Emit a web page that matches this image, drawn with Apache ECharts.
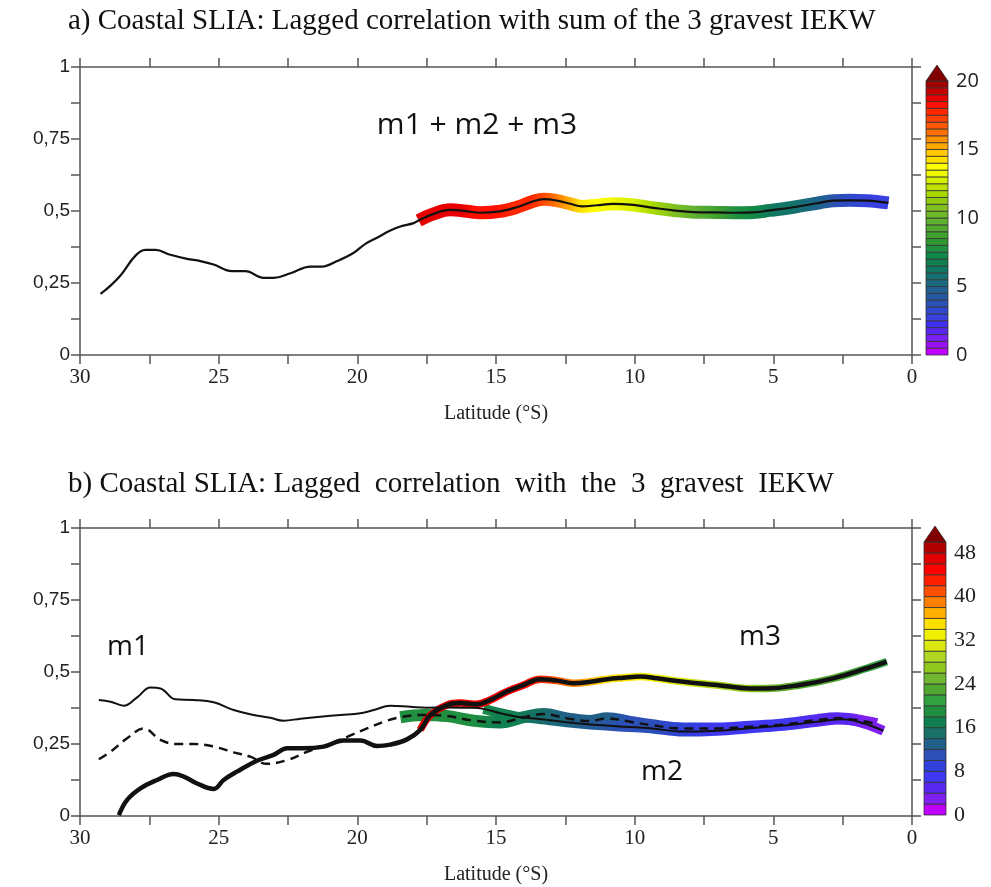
<!DOCTYPE html>
<html><head><meta charset="utf-8">
<script src="https://cdn.jsdelivr.net/npm/echarts@6/dist/echarts.min.js"></script>
<style>html,body{margin:0;padding:0;background:#fff}#c{width:991px;height:887px}</style>
</head><body><div id="c"></div>
<script>
// ---------- Panel a: sum m1+m2+m3 ----------
const aLat = [29.26,28.9,28.54,28.0,27.64,27.28,26.74,26.14,25.66,25.18,24.52,24.04,23.38,23.02,22.41,21.69,21.27,20.73,20.13,19.71,19.29,18.81,18.45,17.97,
  17.79,17.25,16.65,16.05,15.57,14.85,14.25,13.65,13.29,12.8,12.32,11.9,11.36,10.76,10.04,9.32,8.6,7.88,7.04,6.44,5.72,5.12,4.28,3.43,2.84,2.24,1.63,0.85];
const aVal = [0.212,0.241,0.276,0.345,0.365,0.365,0.348,0.334,0.326,0.314,0.291,0.291,0.268,0.268,0.284,0.307,0.307,0.326,0.355,0.386,0.407,0.432,0.446,0.458,
  0.467,0.49,0.504,0.499,0.494,0.499,0.513,0.534,0.541,0.536,0.525,0.516,0.52,0.525,0.521,0.511,0.502,0.496,0.495,0.494,0.495,0.502,0.513,0.527,0.536,0.537,0.536,0.528];
const aLag = [null,null,null,null,null,null,null,null,null,null,null,null,null,null,null,null,null,null,null,null,null,null,null,null,
  18.6,18.6,18.6,18.5,18.3,18,17.8,17.5,17.2,16,15,14.2,13.6,13.2,12.5,11.5,10.5,9.7,8.8,7.8,7,6.2,5.5,4.5,3.8,3,2.6,2.5];

// ---------- Panel b: m1 (thin), m2 (dashed), m3 (thick) ----------
const m1Lat = [29.32,28.9,28.42,27.94,27.46,27.1,26.56,25.9,25.18,24.46,23.74,23.14,22.66,22.05,21.33,20.61,19.89,19.41,18.81,18.09,17.49,16.77,16.05,
  15.45,14.85,14.25,13.5,12.08,10.4,9.44,8.24,7.04,5.84,4.64,3.43,2.48,1.76,1.03];
const m1Val = [0.403,0.397,0.383,0.412,0.446,0.443,0.405,0.403,0.395,0.368,0.351,0.341,0.331,0.338,0.345,0.351,0.357,0.368,0.383,0.379,0.376,0.377,0.376,
  0.372,0.357,0.345,0.338,0.322,0.31,0.305,0.293,0.296,0.305,0.314,0.327,0.336,0.322,0.296];
const m1Lag = [null,null,null,null,null,null,null,null,null,null,null,null,null,null,null,null,null,null,null,null,null,null,null,
  18.5,17.5,17,15.5,13.5,11.5,10.5,9,7.5,7,6.5,5.5,4.5,3.5,3];

const m2Lat = [29.32,28.9,28.3,27.7,27.1,26.5,25.9,25.18,24.46,23.86,23.26,22.53,21.81,21.09,20.37,19.65,19.05,
  18.45,17.61,16.77,15.81,14.85,14.0,13.29,12.44,11.6,11.0,10.16,9.44,8.24,7.04,5.84,4.64,3.43,2.72,2.0,1.27];
const m2Val = [0.197,0.223,0.27,0.304,0.264,0.25,0.25,0.241,0.221,0.206,0.181,0.194,0.223,0.247,0.275,0.304,0.327,
  0.343,0.351,0.347,0.331,0.325,0.343,0.354,0.339,0.33,0.339,0.327,0.316,0.304,0.304,0.31,0.318,0.333,0.339,0.333,0.319];
const m2Lag = [null,null,null,null,null,null,null,null,null,null,null,null,null,null,null,null,null,
  19.5,19,19,18.5,17.5,16.5,15,13.5,13,12.5,11.5,10.5,9,7.5,7,6.5,5.5,4.5,3.5,3];

const m3Lat = [28.6,28.3,27.82,27.22,26.62,26.26,25.78,25.18,24.82,24.34,23.62,23.02,22.53,21.93,21.21,20.49,19.89,19.29,18.81,18.21,
  17.73,17.37,16.77,16.29,15.69,15.21,14.61,14.0,13.41,12.8,12.2,11.6,11.0,10.4,9.8,9.2,8.24,7.04,5.84,5.24,4.04,2.84,1.63,0.91];
const m3Val = [0.003,0.056,0.096,0.125,0.146,0.137,0.113,0.094,0.125,0.154,0.192,0.212,0.235,0.235,0.241,0.262,0.262,0.243,0.248,0.266,
  0.299,0.35,0.385,0.392,0.388,0.403,0.432,0.455,0.475,0.47,0.461,0.466,0.475,0.48,0.484,0.478,0.466,0.455,0.443,0.443,0.455,0.478,0.513,0.536];
const m3Lag = [null,null,null,null,null,null,null,null,null,null,null,null,null,null,null,null,null,null,null,null,
  47,47,47,46,46,45.5,45,44,42.5,40.5,38.5,37,35.5,34.5,33.5,33,31,29,27,25.5,23.5,22,21,20];

// ---------- Colour scales ----------
const paletteA = ['#c000ff','#9810f0','#7820f0','#5828f0','#4030f0','#3840e0','#3048d0','#2c50b8','#2658a0','#206090',
  '#1a6880','#157070','#107860','#108050','#108848','#209040','#309830','#40a030','#50a830','#60b030',
  '#70b828','#80c020','#90cc10','#a8d800','#c0e000','#d8f000','#f0f800','#ffff00','#ffe000','#ffc800',
  '#ffa800','#ff9000','#ff7000','#ff5800','#ff4000','#ff2800','#ff1000','#e80000','#c80000','#a00000'];
const stepA = 0.5, maxA = 20, labelStepA = 5;
const paletteB = ['#c000ff','#8020f0','#5828f0','#4038f0','#3040d8','#2c50b8','#206088','#187068','#108050','#209040',
  '#30a040','#50a830','#70b830','#90c820','#b0d820','#d8e810','#f0f000','#ffe000','#ffb000','#ff8000',
  '#ff5000','#ff2000','#ff0000','#e00000','#b00000'];
const stepB = 2, maxB = 50, labelStepB = 8;
const overColor = '#800000';

// ---------- Text ----------
const titleA = 'a) Coastal SLIA: Lagged correlation with sum of the 3 gravest IEKW';
const titleB = 'b) Coastal SLIA: Lagged  correlation  with  the  3  gravest  IEKW';
const xName = 'Latitude (°S)';
const labelSum = 'm1 + m2 + m3', labelM1 = 'm1', labelM2 = 'm2', labelM3 = 'm3';

function colorFor(lag, pal, step){
  let i = Math.floor(lag/step); if(i<0) i=0; if(i>=pal.length) i=pal.length-1; return pal[i];
}
function pairs(lat,val){ return lat.map((x,i)=>[x,val[i]]); }
function bandPairs(lat,val,lag){ const r=[]; lat.forEach((x,i)=>{ if(lag[i]!=null) r.push([x,val[i]]); }); return r; }
function bandGradient(lat,lag,pal,step){
  const idx = lat.map((_,i)=>i).filter(i=>lag[i]!=null);
  const hi = Math.max(...idx.map(i=>lat[i])), lo = Math.min(...idx.map(i=>lat[i]));
  return {type:'linear',x:0,y:0,x2:1,y2:0,global:false,
    colorStops: idx.map(i=>({offset:(hi-lat[i])/(hi-lo), color:colorFor(lag[i],pal,step)}))};
}

const axisColor = '#555';
function mainX(gi, pos, showLabel){
  return {type:'value', gridIndex:gi, position:pos, min:0, max:30, interval:2.5, inverse:true,
    axisLine:{show:true,onZero:false,lineStyle:{color:axisColor,width:1.5}},
    axisTick:{show:true,inside:false,length:9,lineStyle:{color:axisColor,width:1.5}},
    splitLine:{show:false},
    axisLabel:{show:showLabel, margin:12, color:'#222', fontFamily:'Liberation Serif', fontSize:21,
      formatter:v=> (Math.abs(v%5)<1e-6 ? String(v) : '')},
    name: showLabel ? xName : '', nameLocation:'middle', nameGap:49,
    nameTextStyle:{fontFamily:'Liberation Serif', fontSize:20, color:'#222'}};
}
function mainY(gi, pos, showLabel){
  return {type:'value', gridIndex:gi, position:pos, min:0, max:1, interval:0.125,
    axisLine:{show:true,onZero:false,lineStyle:{color:axisColor,width:1.5}},
    axisTick:{show:true,inside:false,length:9,lineStyle:{color:axisColor,width:1.5}},
    splitLine:{show:false},
    axisLabel:{show:showLabel, margin:10, color:'#222', fontFamily:'Liberation Sans', fontSize:19,
      formatter:v=>{ const q=v*4; return Math.abs(q-Math.round(q))<1e-6 ? String(v).replace('.',',') : ''; }}};
}
function cbarX(gi){ return {type:'value', gridIndex:gi, min:0, max:1, show:false}; }
function cbarY(gi, max, lstep, font, size){
  return {type:'value', gridIndex:gi, position:'right', min:0, max:max, interval:lstep,
    axisLine:{show:false}, axisTick:{show:false}, splitLine:{show:false},
    axisLabel:{margin:8, color:'#222', fontFamily:font, fontSize:size, showMaxLabel:true,
      formatter:v=> (v%lstep===0 && v<=max ? String(v) : '')}};
}
function cbarSeries(xi, yi, pal, step, max){
  return [{type:'custom', xAxisIndex:xi, yAxisIndex:yi, silent:true, clip:false,
      encode:{x:-1, y:[0,1]},
      data: pal.map((c,i)=>[i*step,(i+1)*step,i]),
      renderItem:(p,api)=>{
        const p0=api.coord([0,api.value(0)]), p1=api.coord([1,api.value(1)]);
        return {type:'rect', shape:{x:p0[0], y:p1[1], width:p1[0]-p0[0], height:p0[1]-p1[1]},
          style:{fill:pal[api.value(2)], stroke:'#333', lineWidth:0.8}};
      }},
    {type:'custom', xAxisIndex:xi, yAxisIndex:yi, silent:true, clip:false,
      encode:{x:-1, y:[0]},
      data:[[max]],
      renderItem:(p,api)=>{
        const a=api.coord([0,api.value(0)]), b=api.coord([1,api.value(0)]);
        return {type:'polygon', shape:{points:[[a[0],a[1]],[b[0],b[1]],[(a[0]+b[0])/2,a[1]-16]]},
          style:{fill:overColor, stroke:'#333', lineWidth:0.8}};
      }}];
}

const chart = echarts.init(document.getElementById('c'), null, {renderer:'canvas'});
const series = [
  // panel a
  {type:'line', xAxisIndex:0, yAxisIndex:0, data:bandPairs(aLat,aVal,aLag), smooth:0.4, symbol:'none',
    lineStyle:{width:13, cap:'butt', color:bandGradient(aLat,aLag,paletteA,stepA)}, z:2},
  {type:'line', xAxisIndex:0, yAxisIndex:0, data:pairs(aLat,aVal), smooth:0.4, symbol:'none',
    lineStyle:{width:2.2, color:'#111'}, z:3},
  // panel b bands
  {type:'line', xAxisIndex:2, yAxisIndex:2, data:bandPairs(m2Lat,m2Val,m2Lag), smooth:0.4, symbol:'none',
    lineStyle:{width:12, cap:'butt', color:bandGradient(m2Lat,m2Lag,paletteB,stepB)}, z:2},
  {type:'line', xAxisIndex:2, yAxisIndex:2, data:bandPairs(m1Lat,m1Val,m1Lag), smooth:0.4, symbol:'none',
    lineStyle:{width:10, cap:'butt', color:bandGradient(m1Lat,m1Lag,paletteB,stepB)}, z:2},
  {type:'line', xAxisIndex:2, yAxisIndex:2, data:bandPairs(m3Lat,m3Val,m3Lag), smooth:0.4, symbol:'none',
    lineStyle:{width:7.5, cap:'butt', color:bandGradient(m3Lat,m3Lag,paletteB,stepB)}, z:2},
  // panel b lines
  {type:'line', xAxisIndex:2, yAxisIndex:2, data:pairs(m1Lat,m1Val), smooth:0.4, symbol:'none',
    lineStyle:{width:2, color:'#111'}, z:3},
  {type:'line', xAxisIndex:2, yAxisIndex:2, data:pairs(m2Lat,m2Val), smooth:0.4, symbol:'none',
    lineStyle:{width:2.5, color:'#111', type:[9,6]}, z:3},
  {type:'line', xAxisIndex:2, yAxisIndex:2, data:pairs(m3Lat,m3Val), smooth:0.4, symbol:'none',
    lineStyle:{width:4.5, color:'#111'}, z:3},
  ...cbarSeries(4,4,paletteA,stepA,maxA),
  ...cbarSeries(5,5,paletteB,stepB,maxB)
];

const lblStyle = (t,s)=>({text:t, font:s+'px "Open Sans"', fill:'#111', textAlign:'center', textVerticalAlign:'middle'});
chart.setOption({
  animation:false,
  backgroundColor:'#fff',
  title:[
    {text:titleA, left:63, top:2, textStyle:{fontFamily:'Liberation Serif', fontSize:29, fontWeight:'normal', color:'#111'}},
    {text:titleB, left:63, top:465, textStyle:{fontFamily:'Liberation Serif', fontSize:29, fontWeight:'normal', color:'#111'}}
  ],
  grid:[
    {left:80, top:67, width:832, height:288},
    {left:80, top:528, width:832, height:288},
    {left:926, top:81, width:22, height:274},
    {left:924, top:542, width:22, height:273}
  ],
  xAxis:[mainX(0,'bottom',true), mainX(0,'top',false), mainX(1,'bottom',true), mainX(1,'top',false), cbarX(2), cbarX(3)],
  yAxis:[mainY(0,'left',true), mainY(0,'right',false), mainY(1,'left',true), mainY(1,'right',false),
         cbarY(2,maxA,labelStepA,'Open Sans',20), cbarY(3,maxB,labelStepB,'Liberation Serif',22)],
  graphic:[
    {type:'text', x:477, y:125, style:lblStyle(labelSum,30)},
    {type:'text', x:128, y:647, style:lblStyle(labelM1,28)},
    {type:'text', x:760, y:637, style:lblStyle(labelM3,28)},
    {type:'text', x:662, y:772, style:lblStyle(labelM2,28)}
  ],
  series: series
});
</script></body></html>
